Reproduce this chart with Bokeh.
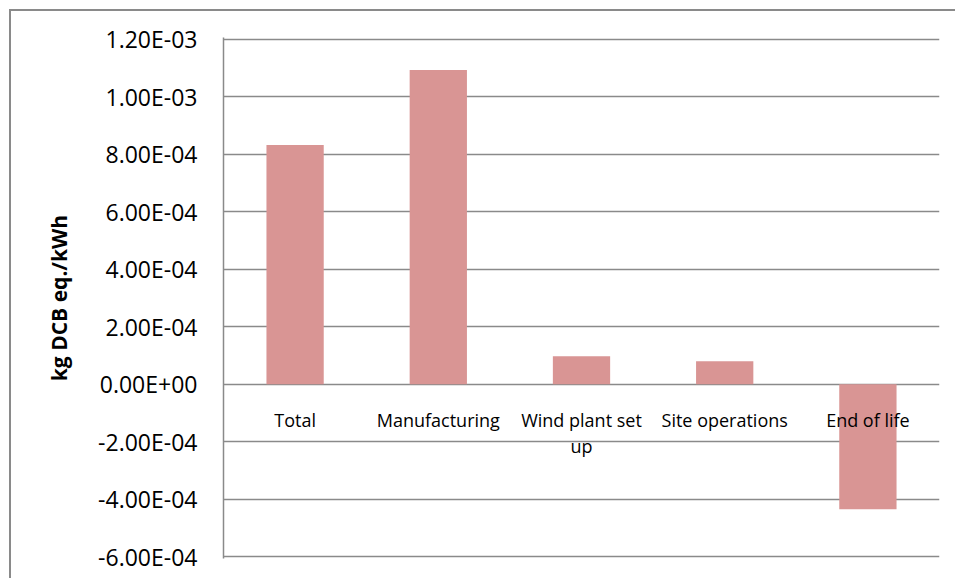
from bokeh.plotting import figure
from bokeh.models import ColumnDataSource, FactorRange, Range1d, FixedTicker
from bokeh.core.properties import value
from bokeh.embed import file_html
from bokeh.resources import INLINE

categories = ["Total", "Manufacturing", "Wind plant set up", "Site operations", "End of life"]
category_labels = ["Total", "Manufacturing", "Wind plant set\nup", "Site operations", "End of life"]
values = [8.32e-4, 1.093e-3, 9.7e-5, 8.0e-5, -4.35e-4]
y_ticks = [-6e-4, -4e-4, -2e-4, 0.0, 2e-4, 4e-4, 6e-4, 8e-4, 1e-3, 1.2e-3]
y_tick_labels = ["-6.00E-04", "-4.00E-04", "-2.00E-04", "0.00E+00", "2.00E-04",
                 "4.00E-04", "6.00E-04", "8.00E-04", "1.00E-03", "1.20E-03"]
y_title = "kg DCB eq./kWh"

FONT = "Open Sans"
GRID = "#8a8a8a"
BAR = "#D99594"

pad = 0.0035 * (y_ticks[-1] - y_ticks[0])

p = figure(width=955, height=578, output_backend="svg", toolbar_location=None,
           x_range=FactorRange(*categories, range_padding=0),
           y_range=Range1d(y_ticks[0] - pad, y_ticks[-1] + pad),
           min_border_left=223, min_border_right=16, min_border_top=37,
           min_border_bottom=20)
p.outline_line_color = None
p.background_fill_color = "white"
p.border_fill_color = None
# chart-area frame on the left and top (the rest lies outside the window)
p.styles = {"background-color": "white",
            "box-shadow": "inset 9px 9px 0px 0px white, inset 11px 11px 0px 0px #8a8a8a"}

src = ColumnDataSource(dict(cat=categories, val=values, lab=category_labels,
                            zero=[0.0] * len(categories)))
p.vbar(x="cat", top="val", bottom="zero", width=0.4, source=src,
       fill_color=BAR, line_color=None)

p.text(x="cat", y="zero", text="lab", source=src, text_align="center", text_baseline="top",
       y_offset=24, text_font=value(FONT), text_font_size="18px", text_color="black",
       text_line_height=1.08)

p.xaxis.visible = False
p.xgrid.visible = False

ticker = FixedTicker(ticks=y_ticks)
p.yaxis.ticker = ticker
p.yaxis.major_label_overrides = {t: l for t, l in zip(y_ticks, y_tick_labels)}
p.yaxis.major_tick_line_color = None
p.yaxis.minor_tick_line_color = None
p.yaxis.major_tick_out = 0
p.yaxis.major_label_standoff = 26
p.yaxis.major_label_text_font = FONT
p.yaxis.major_label_text_font_size = "23px"
p.yaxis.major_label_text_color = "black"
p.yaxis.axis_line_color = GRID
p.yaxis.axis_line_width = 1.5
p.yaxis.axis_label = y_title
p.yaxis.axis_label_text_font = FONT
p.yaxis.axis_label_text_font_size = "21px"
p.yaxis.axis_label_text_font_style = "bold"
p.yaxis.axis_label_text_color = "black"
p.yaxis.axis_label_standoff = 22

p.ygrid.ticker = ticker
p.ygrid.grid_line_color = GRID
p.ygrid.grid_line_width = 1.5

open("out.html", "w").write(file_html(p, INLINE))
